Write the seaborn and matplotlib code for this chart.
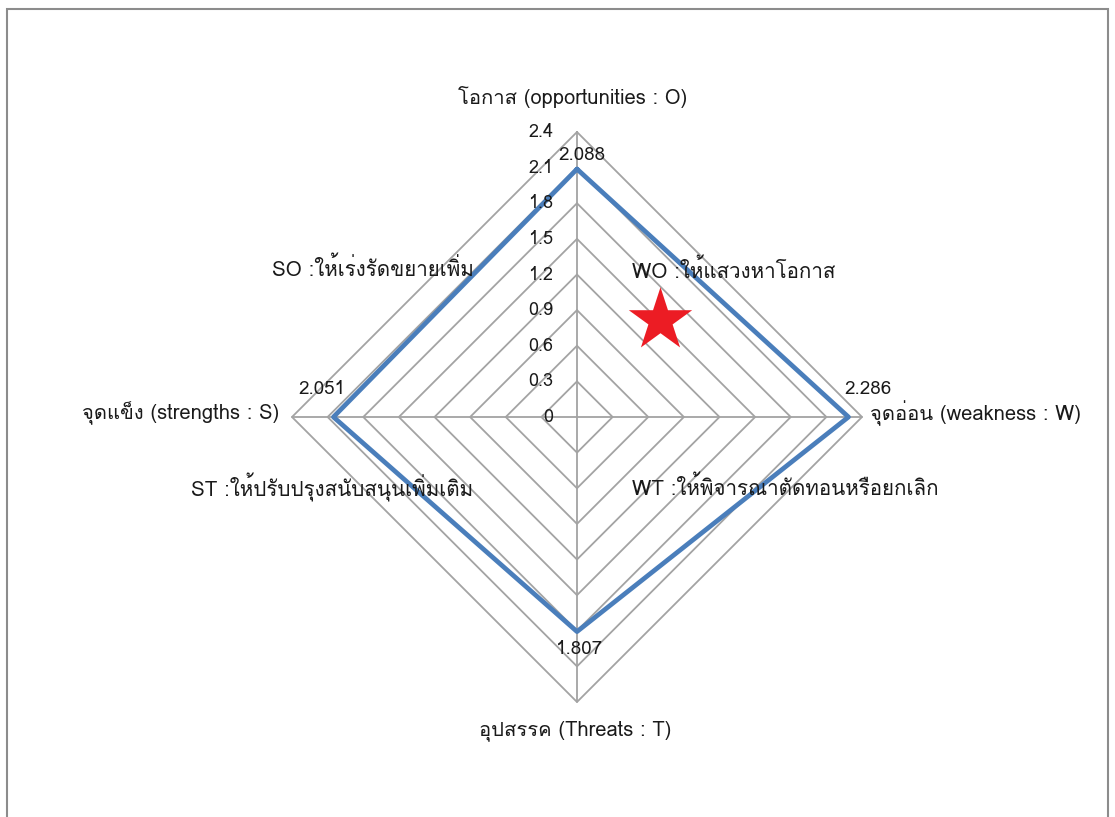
import numpy as np
import pandas as pd
import matplotlib
matplotlib.use("Agg")
import matplotlib.pyplot as plt
from matplotlib import font_manager
from matplotlib.ft2font import FT2Font
from matplotlib.patches import Rectangle
import seaborn as sns

# ---- data ----
categories = ["โอกาส (opportunities : O)", "จุดอ่อน (weakness : W)",
              "อุปสรรค (Threats : T)", "จุดแข็ง (strengths : S)"]
values = [2.088, 2.286, 1.807, 2.051]
value_labels = ["2.088", "2.286", "1.807", "2.051"]
ring_values = [0.3, 0.6, 0.9, 1.2, 1.5, 1.8, 2.1, 2.4]
tick_labels = ["0", "0.3", "0.6", "0.9", "1.2", "1.5", "1.8", "2.1", "2.4"]
quadrant_labels = ["SO :ให้เร่งรัดขยายเพิ่ม", "WO :ให้แสวงหาโอกาส",
                   "ST :ให้ปรับปรุงสนับสนุนเพิ่มเติม", "WT :ให้พิจารณาตัดทอนหรือยกเลิก"]

sns.set_theme(style="white")

# find a font with Thai glyphs
thai_family = None
for f in font_manager.fontManager.ttflist:
    try:
        cm = FT2Font(f.fname).get_charmap()
        if 0x0E42 in cm and 0x0E01 in cm:
            thai_family = f.name
            break
    except Exception:
        pass
fams = ([thai_family] if thai_family else []) + ["DejaVu Sans"]
plt.rcParams["font.family"] = fams

W, H = 1115, 817
fig = plt.figure(figsize=(W / 100, H / 100), dpi=100)
ax = fig.add_axes([0, 0, 1, 1])
scale = 285 / 2.4
cx, cy = 577, 417
ax.set_xlim(-cx / scale, (W - cx) / scale)
ax.set_ylim(-(H - cy) / scale, cy / scale)
ax.axis("off")

angles = np.array([0, 90, 180, 270]) * np.pi / 180  # clockwise from top
sx, sy = np.sin(angles), np.cos(angles)

grid_c = "#a3a3a3"
for r in ring_values:
    ax.plot(np.append(sx, sx[0]) * r, np.append(sy, sy[0]) * r,
            color=grid_c, lw=1.3, zorder=1)
rmax = ring_values[-1]
for i in range(4):
    ax.plot([0, sx[i] * rmax], [0, sy[i] * rmax], color=grid_c, lw=1.3, zorder=1)

# data polygon
vals = np.array(values)
df = pd.DataFrame({"x": np.append(sx * vals, sx[0] * vals[0]),
                   "y": np.append(sy * vals, sy[0] * vals[0]),
                   "order": range(5)})
sns.lineplot(data=df, x="x", y="y", sort=False, color="#4a7ebb", lw=3.4,
             ax=ax, zorder=3, estimator=None)

txt_c = "#1a1a1a"
# tick labels
tick_vals = [0] + ring_values
for v, t in zip(tick_vals, tick_labels):
    ax.text(-0.2, v, t, ha="right", va="center", fontsize=13, color=txt_c)

# value labels
off = 1 / scale
vfs = 13.5
ax.text(5 * off, vals[0] + 14 * off, value_labels[0], ha="center",
        va="center", fontsize=vfs, color=txt_c)
ax.text(vals[1] + 20 * off, 28 * off, value_labels[1], ha="center", va="center",
        fontsize=vfs, color=txt_c)
ax.text(3 * off, -vals[2] - 17 * off, value_labels[2], ha="center", va="center",
        fontsize=vfs, color=txt_c)
ax.text(-vals[3] - 12 * off, 28 * off, value_labels[3], ha="center", va="center",
        fontsize=vfs, color=txt_c)

# category labels
cfs = 14.5
ax.text(-4 * off, (417 - 97) / scale, categories[0], ha="center", va="center", fontsize=cfs, color=txt_c)
ax.text((870 - cx) / scale, (417 - 413) / scale, categories[1], ha="left", va="center", fontsize=cfs, color=txt_c)
ax.text(-2 * off, (417 - 731) / scale, categories[2], ha="center", va="center", fontsize=cfs, color=txt_c)
ax.text((279 - cx) / scale, (417 - 413) / scale, categories[3], ha="right", va="center", fontsize=cfs, color=txt_c)

# quadrant labels
qpos = [(272, 268), (632, 270), (191, 487), (632, 487)]
for (px, py), t in zip(qpos, quadrant_labels):
    ax.text((px - cx) / scale, (cy - py) / scale, t, ha="left", va="center",
            fontsize=14.8, color=txt_c)

# red star
ax.scatter([(660 - cx) / scale], [(cy - 320) / scale], marker="*", s=2300,
           color="#ec1c24", linewidths=0, zorder=4)

# figure border
fig.add_artist(Rectangle((7 / W, -0.05), (1108 - 7) / W, (H - 9) / H + 0.05,
                         transform=fig.transFigure, fill=False,
                         edgecolor="#8c8c8c", lw=1.5))

fig.savefig("out.png", dpi=100)
